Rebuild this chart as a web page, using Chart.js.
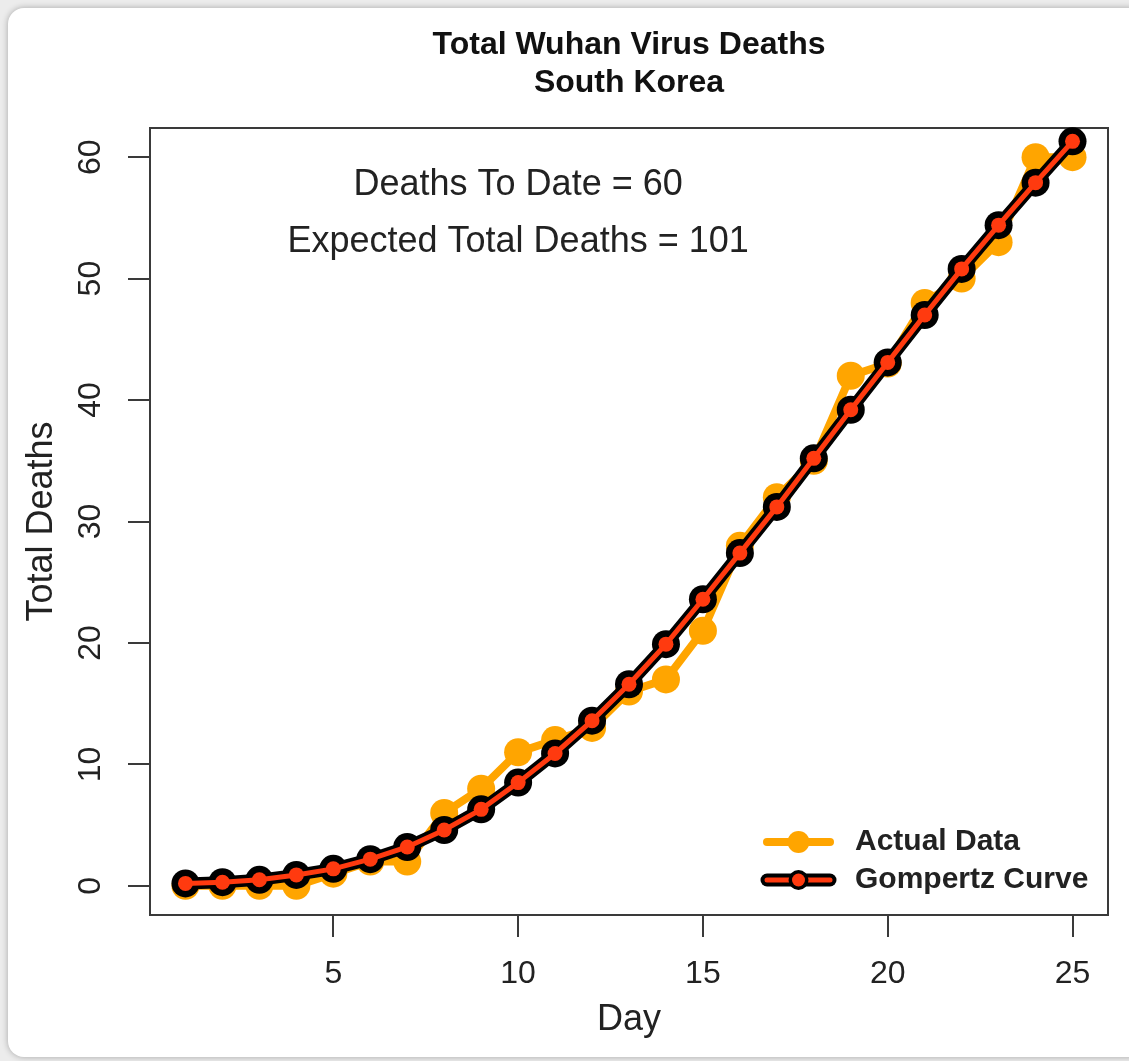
<!DOCTYPE html>
<html>
<head>
<meta charset="utf-8">
<title>Total Wuhan Virus Deaths - South Korea</title>
<script src="https://cdn.jsdelivr.net/npm/chart.js@4.4.1/dist/chart.umd.min.js"></script>
<style>
  html, body { margin: 0; padding: 0; background: #ececec; overflow: hidden; }
  .tarjeta {
    position: absolute; left: 8px; top: 8px; width: 1140px; height: 1049px;
    background: #fff; border-radius: 16px; box-shadow: 0 0 6px rgba(0,0,0,0.3);
  }
  .contenedor { position: absolute; left: 0; top: 0; width: 1129px; height: 1061px; }
</style>
</head>
<body>
<div class="tarjeta"></div>
<div class="contenedor"><canvas id="grafico"></canvas></div>
<script>
const dias = [1, 2, 3, 4, 5, 6, 7, 8, 9, 10, 11, 12, 13, 14, 15, 16, 17, 18, 19, 20, 21, 22, 23, 24, 25];
const muertesReales = [0, 0, 0, 0, 1, 2, 2, 6, 8, 11, 12, 13, 16, 17, 21, 28, 32, 35, 42, 43, 48, 50, 53, 60, 60];
const curvaGompertz = [0.2, 0.3, 0.5, 0.9, 1.4, 2.2, 3.2, 4.6, 6.3, 8.5, 10.9, 13.6, 16.6, 19.9, 23.6, 27.4, 31.2, 35.2, 39.2, 43.1, 47.0, 50.8, 54.4, 57.9, 61.3];
const ticksX = [5, 10, 15, 20, 25];
const ticksY = [0, 10, 20, 30, 40, 50, 60];
const titulo = ['Total Wuhan Virus Deaths', 'South Korea'];
const muertesALaFecha = 60;
const totalEsperado = 101;

const NARANJA = '#FFA500';
const ROJO = '#ff3a0f';
const NEGRO = '#000000';
const FUENTE = "'Liberation Sans', Arial, Helvetica, sans-serif";

Chart.defaults.font.family = FUENTE;

const puntos = (valores) => dias.map((d, i) => ({ x: d, y: valores[i] }));

// caja, titulo, etiquetas del eje y, textos y leyenda
const extras = {
  id: 'extras',
  beforeDatasetsDraw(chart) {
    const { ctx, chartArea: a } = chart;
    ctx.save();
    ctx.strokeStyle = '#3a3a3a';
    ctx.lineWidth = 2;
    ctx.strokeRect(a.left, a.top, a.right - a.left, a.bottom - a.top);
    ctx.restore();
  },
  afterDraw(chart) {
    const { ctx, chartArea: a, scales } = chart;
    const y = scales.y, x = scales.x;
    ctx.save();

    // titulo centrado sobre el area del grafico
    ctx.fillStyle = '#111';
    ctx.font = 'bold 32px ' + FUENTE;
    ctx.textAlign = 'center';
    ctx.textBaseline = 'middle';
    titulo.forEach((linea, i) => ctx.fillText(linea, (a.left + a.right) / 2, 45 + i * 38));

    // etiquetas del eje y giradas
    ctx.fillStyle = '#222';
    ctx.font = '32px ' + FUENTE;
    ticksY.forEach(v => {
      ctx.save();
      ctx.translate(91, y.getPixelForValue(v));
      ctx.rotate(-Math.PI / 2);
      ctx.fillText(String(v), 0, 0);
      ctx.restore();
    });

    // textos dentro del grafico
    ctx.font = '36px ' + FUENTE;
    ctx.fillText('Deaths To Date = ' + muertesALaFecha, x.getPixelForValue(10), y.getPixelForValue(57.7));
    ctx.fillText('Expected Total Deaths = ' + totalEsperado, x.getPixelForValue(10), y.getPixelForValue(53));

    // leyenda abajo a la derecha
    const x0 = a.right - 341, x1 = a.right - 278, xm = (x0 + x1) / 2;
    const fila1 = a.bottom - 73, fila2 = a.bottom - 35;
    ctx.lineCap = 'round';

    ctx.strokeStyle = NARANJA;
    ctx.lineWidth = 8;
    ctx.beginPath(); ctx.moveTo(x0, fila1); ctx.lineTo(x1, fila1); ctx.stroke();
    ctx.fillStyle = NARANJA;
    ctx.beginPath(); ctx.arc(xm, fila1, 11, 0, Math.PI * 2); ctx.fill();

    ctx.strokeStyle = NEGRO;
    ctx.lineWidth = 13;
    ctx.beginPath(); ctx.moveTo(x0, fila2); ctx.lineTo(x1, fila2); ctx.stroke();
    ctx.strokeStyle = ROJO;
    ctx.lineWidth = 5;
    ctx.beginPath(); ctx.moveTo(x0, fila2); ctx.lineTo(x1, fila2); ctx.stroke();
    ctx.fillStyle = NEGRO;
    ctx.beginPath(); ctx.arc(xm, fila2, 10, 0, Math.PI * 2); ctx.fill();
    ctx.fillStyle = ROJO;
    ctx.beginPath(); ctx.arc(xm, fila2, 6.5, 0, Math.PI * 2); ctx.fill();

    ctx.fillStyle = '#222';
    ctx.font = 'bold 30px ' + FUENTE;
    ctx.textAlign = 'left';
    ctx.fillText('Actual Data', a.right - 253, fila1);
    ctx.fillText('Gompertz Curve', a.right - 253, fila2);
    ctx.restore();
  }
};

new Chart(document.getElementById('grafico'), {
  type: 'line',
  data: {
    datasets: [
      {
        label: 'Gompertz Curve',
        data: puntos(curvaGompertz),
        borderColor: ROJO,
        borderWidth: 5,
        pointRadius: 7.5,
        pointBackgroundColor: ROJO,
        pointBorderWidth: 0,
        tension: 0,
        clip: false
      },
      {
        label: 'Gompertz Curve (borde)',
        data: puntos(curvaGompertz),
        borderColor: NEGRO,
        borderWidth: 12,
        pointRadius: 14,
        pointBackgroundColor: NEGRO,
        pointBorderWidth: 0,
        tension: 0,
        clip: false
      },
      {
        label: 'Actual Data',
        data: puntos(muertesReales),
        borderColor: NARANJA,
        borderWidth: 8,
        pointRadius: 14,
        pointBackgroundColor: NARANJA,
        pointBorderWidth: 0,
        tension: 0,
        clip: false
      }
    ]
  },
  options: {
    responsive: true,
    maintainAspectRatio: false,
    animation: false,
    layout: { padding: { left: 0, right: 21, top: 128, bottom: 0 } },
    plugins: {
      legend: { display: false },
      tooltip: { enabled: false },
      title: { display: false }
    },
    scales: {
      x: {
        type: 'linear',
        position: 'bottom',
        min: 0.04,
        max: 25.96,
        afterBuildTicks: (eje) => { eje.ticks = ticksX.map(v => ({ value: v })); },
        afterFit: (eje) => { eje.height = 146; },
        border: { display: false },
        grid: { drawOnChartArea: false, drawTicks: true, tickLength: 22, color: '#3a3a3a', lineWidth: 2 },
        ticks: { color: '#222', font: { size: 32 }, padding: 18, maxRotation: 0 },
        title: { display: true, text: 'Day', color: '#222', font: { size: 36 }, padding: { top: 0, bottom: 19 } }
      },
      y: {
        type: 'linear',
        min: -2.4,
        max: 62.4,
        afterBuildTicks: (eje) => { eje.ticks = ticksY.map(v => ({ value: v })); },
        afterFit: (eje) => { eje.width = 150; },
        border: { display: false },
        grid: { drawOnChartArea: false, drawTicks: true, tickLength: 22, color: '#3a3a3a', lineWidth: 2 },
        ticks: { display: false },
        title: { display: true, text: 'Total Deaths', color: '#222', font: { size: 36 }, padding: { top: 20, bottom: 0 } }
      }
    }
  },
  plugins: [extras]
});
</script>
</body>
</html>
